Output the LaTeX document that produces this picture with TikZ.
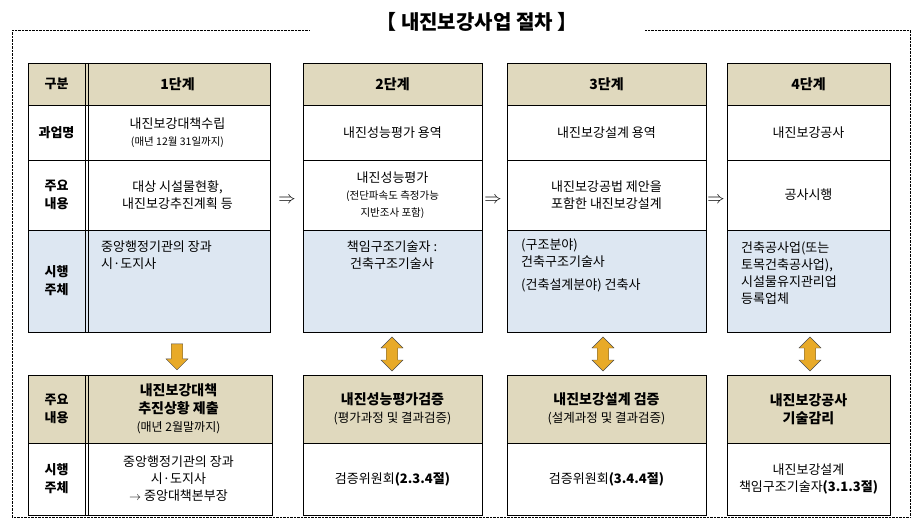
\documentclass[tikz,border=0pt]{standalone}
\usepackage{fontspec}
\setmainfont{Noto Sans CJK KR}
\usetikzlibrary{shapes.arrows}
\definecolor{headfill}{RGB}{224,217,190}
\definecolor{bodyfill}{RGB}{221,231,242}
\definecolor{arrowfill}{RGB}{232,170,40}
\tikzset{
  celltext/.style={align=center, font=\fontsize{13}{17}\selectfont, inner sep=1pt},
  headtext/.style={celltext, font=\bfseries\fontsize{14}{18}\selectfont},
  sidetext/.style={celltext, font=\bfseries\fontsize{13}{18}\selectfont},
  steparrow/.style={font=\fontsize{16}{16}\selectfont},
  downarrow/.style={single arrow, draw=black!70, fill=arrowfill, shape border rotate=270,
    minimum width=22pt, single arrow head extend=2pt, minimum height=26pt, inner sep=2pt},
  botharrow/.style={double arrow, draw=black!70, fill=arrowfill, shape border rotate=90,
    minimum width=22pt, double arrow head extend=2pt, minimum height=34pt, inner sep=2pt}
}
% cell: name, x1, y1, x2, y2, fill, style, text
\newcommand\cellbox[8]{%
  \fill[#6] (#2,#3) rectangle (#4,#5);
  \draw (#2,#3) rectangle (#4,#5);
  \node[#7] (#1) at ({(#2+#4)/2},{(#3+#5)/2}) {#8};}
\newcommand\sm[1]{{\fontsize{10.5}{14}\selectfont #1}}
\begin{document}
\begin{tikzpicture}[x=1pt,y=-1pt]
  \useasboundingbox (0,0) rectangle (916,527);
  % title and frame
  \node[font=\bfseries\fontsize{20}{24}\selectfont] (title) at (477,22) {【 내진보강사업 절차 】};
  \draw[densely dotted] (12,30) -- (310,30);
  \draw[densely dotted] (645,30) -- (910,30) -- (910,517) -- (12,517) -- (12,30);

  % stage 1 (top)
  \cellbox{h0}{28}{63}{85}{105}{headfill}{sidetext}{구분}
  \cellbox{h1}{85}{63}{270}{105}{headfill}{headtext}{1단계}
  \cellbox{r1a}{28}{105}{85}{160}{white}{sidetext}{과업명}
  \cellbox{r1b}{28}{160}{85}{230}{white}{sidetext}{주요\\내용}
  \cellbox{r1c}{28}{230}{85}{332}{bodyfill}{sidetext}{시행\\주체}
  \cellbox{s1a}{85}{105}{270}{160}{white}{celltext}{내진보강대책수립\\\sm{(매년 12월 31일까지)}}
  \cellbox{s1b}{85}{160}{270}{230}{white}{celltext}{대상 시설물현황,\\내진보강추진계획 등}
  \fill[bodyfill] (85,230) rectangle (270,332);
  \draw (85,230) rectangle (270,332);
  \node[celltext, align=left, anchor=north west] (s1c) at (100,240) {중앙행정기관의 장과\\시·도지사};
  \draw (88,63) -- (88,332);

  % stage 2 (top)
  \cellbox{h2}{303}{63}{482}{105}{headfill}{headtext}{2단계}
  \cellbox{s2a}{303}{105}{482}{160}{white}{celltext}{내진성능평가 용역}
  \cellbox{s2b}{303}{160}{482}{230}{white}{celltext}{내진성능평가\\\sm{(전단파속도 측정가능}\\\sm{지반조사 포함)}}
  \fill[bodyfill] (303,230) rectangle (482,332);
  \draw (303,230) rectangle (482,332);
  \node[celltext, anchor=north] (s2c) at (392,240) {책임구조기술자 :\\건축구조기술사};

  % stage 3 (top)
  \cellbox{h3}{507}{63}{706}{105}{headfill}{headtext}{3단계}
  \cellbox{s3a}{507}{105}{706}{160}{white}{celltext}{내진보강설계 용역}
  \cellbox{s3b}{507}{160}{706}{230}{white}{celltext}{내진보강공법 제안을\\포함한 내진보강설계}
  \fill[bodyfill] (507,230) rectangle (706,332);
  \draw (507,230) rectangle (706,332);
  \node[celltext, align=left, anchor=north west] (s3c) at (520,238)
    {(구조분야)\\건축구조기술사\\[6pt](건축설계분야) 건축사};

  % stage 4 (top)
  \cellbox{h4}{727}{63}{890}{105}{headfill}{headtext}{4단계}
  \cellbox{s4a}{727}{105}{890}{160}{white}{celltext}{내진보강공사}
  \cellbox{s4b}{727}{160}{890}{230}{white}{celltext}{공사시행}
  \fill[bodyfill] (727,230) rectangle (890,332);
  \draw (727,230) rectangle (890,332);
  \node[celltext, align=left, anchor=north west] (s4c) at (740,240)
    {건축공사업(또는\\토목건축공사업),\\시설물유지관리업\\등록업체};

  % arrows between stages
  \node[steparrow] (p12) at (287,200) {$\Rightarrow$};
  \node[steparrow] (p23) at (493,200) {$\Rightarrow$};
  \node[steparrow] (p34) at (716,200) {$\Rightarrow$};

  % bottom row
  \cellbox{b0}{28}{375}{85}{443}{headfill}{sidetext}{주요\\내용}
  \cellbox{b1}{85}{375}{272}{443}{headfill}{headtext}{내진보강대책\\추진상황 제출\\{\mdseries\fontsize{12}{15}\selectfont (매년 2월말까지)}}
  \cellbox{c0}{28}{443}{85}{515}{white}{sidetext}{시행\\주체}
  \cellbox{c1}{85}{443}{272}{515}{white}{celltext}{중앙행정기관의 장과\\시·도지사\\$\rightarrow$ 중앙대책본부장}
  \draw (88,375) -- (88,515);
  \cellbox{b2}{303}{375}{482}{443}{headfill}{headtext}{내진성능평가검증\\{\mdseries\fontsize{12.5}{16}\selectfont (평가과정 및 결과검증)}}
  \cellbox{c2}{303}{443}{482}{515}{white}{celltext}{검증위원회\textbf{(2.3.4절)}}
  \cellbox{b3}{507}{375}{706}{443}{headfill}{headtext}{내진보강설계 검증\\{\mdseries\fontsize{12.5}{16}\selectfont (설계과정 및 결과검증)}}
  \cellbox{c3}{507}{443}{706}{515}{white}{celltext}{검증위원회\textbf{(3.4.4절)}}
  \cellbox{b4}{727}{375}{890}{443}{headfill}{headtext}{내진보강공사\\기술감리}
  \cellbox{c4}{727}{443}{890}{515}{white}{celltext}{내진보강설계\\책임구조기술자\textbf{(3.1.3절)}}

  % vertical links
  \node[downarrow] (d1) at (177,354) {};
  \node[botharrow] (d2) at (392,354) {};
  \node[botharrow] (d3) at (603,354) {};
  \node[botharrow] (d4) at (810,354) {};
\end{tikzpicture}
\end{document}
